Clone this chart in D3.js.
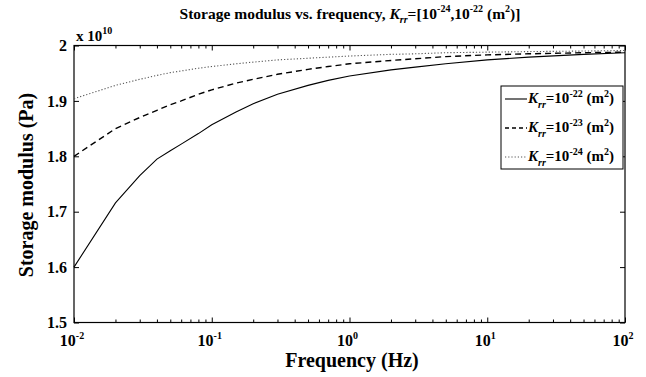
<!DOCTYPE html>
<html>
<head>
<meta charset="utf-8">
<script src="https://cdn.jsdelivr.net/npm/d3@7"></script>
<style>
body { margin: 0; background: #fff; }
text { font-family: "Liberation Serif", "Times New Roman", serif; font-weight: bold; fill: #000; }
</style>
</head>
<body>
<div id="mainDiv"></div>
<script>
'use strict';

// frequencies (Hz) and storage modulus (x 10^10 Pa)
var freqs    = [0.01, 0.02, 0.03, 0.04, 0.05, 0.06, 0.08, 0.1, 0.15, 0.2, 0.3, 0.5, 0.7, 1, 2, 3, 5, 10, 20, 50, 100];
var krr22    = [1.600, 1.716, 1.765, 1.795, 1.810, 1.822, 1.841, 1.857, 1.880, 1.895, 1.912, 1.928, 1.937, 1.945, 1.956, 1.961, 1.967, 1.974, 1.979, 1.984, 1.987];
var krr23    = [1.800, 1.850, 1.870, 1.883, 1.893, 1.900, 1.912, 1.920, 1.932, 1.939, 1.948, 1.957, 1.962, 1.967, 1.973, 1.976, 1.980, 1.983, 1.985, 1.987, 1.988];
var krr24    = [1.904, 1.928, 1.939, 1.946, 1.951, 1.954, 1.959, 1.962, 1.967, 1.970, 1.974, 1.977, 1.979, 1.981, 1.984, 1.985, 1.987, 1.988, 1.989, 1.990, 1.991];
var seriesExp = ["-22", "-23", "-24"];
var yTicks   = [1.5, 1.6, 1.7, 1.8, 1.9, 2];
var yTickLabels = ["1.5", "1.6", "1.7", "1.8", "1.9", "2"];
var xTicks   = [0.01, 0.1, 1, 10, 100];
var xTickExp = ["-2", "-1", "0", "1", "2"];

var chart = {};

chart.left = 74;
chart.right = 625;
chart.top = 45.5;
chart.bottom = 322.5;

chart.appendSvg = function (element, w, h)
{
    return d3.select(element).append("svg")
        .attr("width", w)
        .attr("height", h);
};

chart.run = function ()
{
    var svg = chart.appendSvg("#mainDiv", 646, 377);

    var x = d3.scaleLog().domain([0.01, 100]).range([chart.left, chart.right]);
    var y = d3.scaleLinear().domain([1.5, 2]).range([chart.bottom, chart.top]);

    // minor ticks on the log axis
    var minor = [];
    for (var d = 0.01; d < 100; d *= 10)
    {
        for (var k = 2; k <= 9; k++) { minor.push(d * k); }
    }

    function styleAxis(g)
    {
        g.select(".domain").remove();
        g.selectAll("line").attr("stroke", "#000").attr("stroke-width", 1);
        g.selectAll("text").remove();
    }

    svg.append("g").attr("transform", "translate(0," + chart.bottom + ")")
        .call(d3.axisBottom(x).tickValues(minor).tickSize(-3)).call(styleAxis);
    svg.append("g").attr("transform", "translate(0," + chart.bottom + ")")
        .call(d3.axisBottom(x).tickValues(xTicks).tickSize(-5)).call(styleAxis);
    svg.append("g").attr("transform", "translate(0," + chart.top + ")")
        .call(d3.axisTop(x).tickValues(minor).tickSize(-3)).call(styleAxis);
    svg.append("g").attr("transform", "translate(0," + chart.top + ")")
        .call(d3.axisTop(x).tickValues(xTicks).tickSize(-5)).call(styleAxis);
    svg.append("g").attr("transform", "translate(" + chart.left + ",0)")
        .call(d3.axisLeft(y).tickValues(yTicks).tickSize(-5)).call(styleAxis);
    svg.append("g").attr("transform", "translate(" + chart.right + ",0)")
        .call(d3.axisRight(y).tickValues(yTicks).tickSize(-5)).call(styleAxis);

    svg.append("rect")
        .attr("x", chart.left).attr("y", chart.top)
        .attr("width", chart.right - chart.left).attr("height", chart.bottom - chart.top)
        .attr("fill", "none").attr("stroke", "#000").attr("stroke-width", 1.2);

    // y tick labels
    svg.selectAll("text.ylab")
        .data(yTicks)
        .enter()
        .append("text")
            .attr("class", "ylab")
            .attr("x", chart.left - 7)
            .attr("y", function (d) { return y(d); })
            .attr("dy", "0.35em")
            .attr("text-anchor", "end")
            .attr("font-size", "16px")
            .text(function (d, i) { return yTickLabels[i]; });

    // x tick labels with exponents
    var xl = svg.selectAll("text.xlab")
        .data(xTicks)
        .enter()
        .append("text")
            .attr("class", "xlab")
            .attr("x", function (d) { return x(d) - 2; })
            .attr("y", 346)
            .attr("text-anchor", "middle")
            .attr("font-size", "16px");
    xl.append("tspan").text("10");
    xl.append("tspan").attr("dy", -7).attr("font-size", "10px")
        .text(function (d, i) { return xTickExp[i]; });

    // multiplier
    var mult = svg.append("text").attr("x", 76).attr("y", 41).attr("font-size", "15px");
    mult.append("tspan").text("x 10");
    mult.append("tspan").attr("dy", -7).attr("font-size", "10px").text("10");

    // title
    var title = svg.append("text").attr("x", 350).attr("y", 19)
        .attr("text-anchor", "middle").attr("font-size", "15.5px");
    title.append("tspan").text("Storage modulus vs. frequency, ");
    title.append("tspan").attr("font-style", "italic").text("K");
    title.append("tspan").attr("font-style", "italic").attr("font-size", "10px").attr("dy", 4).text("rr");
    title.append("tspan").attr("dy", -4).text("=[10");
    title.append("tspan").attr("font-size", "10px").attr("dy", -7).text("-24");
    title.append("tspan").attr("dy", 7).text(",10");
    title.append("tspan").attr("font-size", "10px").attr("dy", -7).text("-22");
    title.append("tspan").attr("dy", 7).text(" (m");
    title.append("tspan").attr("font-size", "10px").attr("dy", -7).text("2");
    title.append("tspan").attr("dy", 7).text(")]");

    // axis labels
    svg.append("text")
        .attr("x", 352).attr("y", 367)
        .attr("text-anchor", "middle").attr("font-size", "20px")
        .text("Frequency (Hz)");
    svg.append("text")
        .attr("transform", "translate(33,185) rotate(-90)")
        .attr("text-anchor", "middle").attr("font-size", "20px")
        .text("Storage modulus (Pa)");

    // curves
    var styles = [
        { values: krr22, dash: null, legDash: null, color: "#000", width: 1.1 },
        { values: krr23, dash: "6,4", legDash: "4,3", color: "#000", width: 1.4 },
        { values: krr24, dash: "1.2,2", legDash: "1.2,2", color: "#555", width: 1.1 }
    ];

    var line = d3.line()
        .x(function (d) { return x(d[0]); })
        .y(function (d) { return y(d[1]); });

    svg.selectAll("path.curve")
        .data(styles)
        .enter()
        .append("path")
            .attr("class", "curve")
            .attr("d", function (s) { return line(d3.zip(freqs, s.values)); })
            .attr("fill", "none")
            .attr("stroke", function (s) { return s.color; })
            .attr("stroke-width", function (s) { return s.width; })
            .attr("stroke-dasharray", function (s) { return s.dash; });

    // legend
    var lg = svg.append("g");
    lg.append("rect")
        .attr("x", 501).attr("y", 86).attr("width", 122).attr("height", 83)
        .attr("fill", "#fff").attr("stroke", "#000").attr("stroke-width", 1);
    var rows = lg.selectAll("g.row")
        .data(styles)
        .enter()
        .append("g")
            .attr("class", "row")
            .attr("transform", function (s, i) { return "translate(0," + (99 + i * 29) + ")"; });
    rows.append("line")
        .attr("x1", 505).attr("x2", 527).attr("y1", 0).attr("y2", 0)
        .attr("stroke", function (s) { return s.color; })
        .attr("stroke-width", function (s) { return s.width; })
        .attr("stroke-dasharray", function (s) { return s.legDash; });
    var lt = rows.append("text").attr("x", 528).attr("y", 4).attr("font-size", "15px");
    lt.append("tspan").attr("font-style", "italic").text("K");
    lt.append("tspan").attr("font-style", "italic").attr("font-size", "10px").attr("dy", 5).text("rr");
    lt.append("tspan").attr("dy", -5).text("=10");
    lt.append("tspan").attr("font-size", "10px").attr("dy", -6).text(function (s, i) { return seriesExp[i]; });
    lt.append("tspan").attr("dy", 6).text(" (m");
    lt.append("tspan").attr("font-size", "10px").attr("dy", -6).text("2");
    lt.append("tspan").attr("dy", 6).text(")");
};

window.onload = chart.run;
</script>
</body>
</html>
